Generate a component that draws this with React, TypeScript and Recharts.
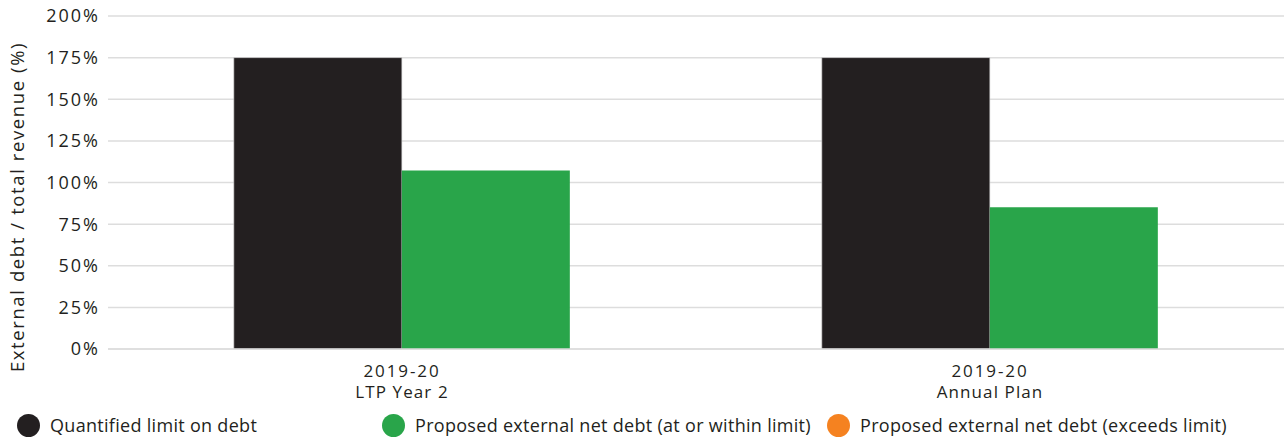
import React from "react";
import {
  Bar,
  BarChart,
  CartesianGrid,
  Legend,
  XAxis,
  YAxis,
} from "recharts";

const years = ["2019-20", "2019-20"];
const plans = ["LTP Year 2", "Annual Plan"];
const limitValues = [175, 175];
const proposedValues = [107.2, 85.2];
const yTicks = [0, 25, 50, 75, 100, 125, 150, 175, 200];
const yTitle = "External debt / total revenue (%)";

const legendLabels = [
  "Quantified limit on debt",
  "Proposed external net debt (at or within limit)",
  "Proposed external net debt (exceeds limit)",
];
const legendColors = ["#231f20", "#29a54a", "#f58220"];

const data = years.map((y, i) => ({
  name: `${y}|${plans[i]}`,
  limit: limitValues[i],
  proposed: proposedValues[i],
}));

const FONT = "'Open Sans', sans-serif";

function CategoryTick(props: any) {
  const { x, y, payload } = props;
  const [top, bottom] = String(payload.value).split("|");
  return (
    <g transform={`translate(${x},${y})`}>
      <text
        textAnchor="middle"
        fill="#231f20"
        fontFamily={FONT}
        fontSize={17}
        letterSpacing={1.9}
      >
        <tspan x={0} dy={20}>
          {top}
        </tspan>
        <tspan x={0} dy={21} letterSpacing={1.1}>
          {bottom}
        </tspan>
      </text>
    </g>
  );
}

function YTitle() {
  return (
    <text
      x={24}
      y={207}
      transform="rotate(-90 24 207)"
      textAnchor="middle"
      fill="#231f20"
      fontFamily={FONT}
      fontSize={18.5}
      letterSpacing={1.6}
    >
      {yTitle}
    </text>
  );
}

function LegendBox() {
  const lefts = [17, 382, 827];
  return (
    <div style={{ position: "relative", height: 32, width: 1284 }}>
      {legendLabels.map((label, i) => (
        <div
          key={label}
          style={{
            position: "absolute",
            left: lefts[i],
            top: 6,
            display: "flex",
            alignItems: "center",
            fontFamily: FONT,
            fontSize: 18,
            letterSpacing: 0.3,
            color: "#231f20",
            whiteSpace: "nowrap",
          }}
        >
          <span
            style={{
              display: "inline-block",
              width: 23,
              height: 23,
              borderRadius: "50%",
              background: legendColors[i],
              marginRight: 10,
            }}
          />
          {label}
        </div>
      ))}
    </div>
  );
}

export default function App() {
  return (
    <div style={{ width: 1284, height: 439 }}>
      <style>{`body{margin:0}`}</style>
      <BarChart
        width={1284}
        height={439}
        data={data}
        margin={{ top: 16, right: 0, left: 0, bottom: 0 }}
        barCategoryGap="21.4%"
        barGap={0}
      >
        <CartesianGrid vertical={false} stroke="#dddddd" strokeWidth={1.5} />
        <XAxis
          dataKey="name"
          tick={<CategoryTick />}
          tickLine={false}
          axisLine={{ stroke: "#dddddd", strokeWidth: 1.5 }}
          height={58}
          interval={0}
        />
        <YAxis
          domain={[0, 200]}
          ticks={yTicks}
          interval={0}
          width={108}
          tickLine={false}
          axisLine={false}
          tickFormatter={(v: number) => `${v}%`}
          tick={{
            fill: "#231f20",
            fontSize: 18,
            fontFamily: FONT,
            fontWeight: 500,
            letterSpacing: 2,
          }}
          label={<YTitle />}
        />
        <Legend verticalAlign="bottom" height={32} content={() => <LegendBox />} />
        <Bar
          dataKey="limit"
          fill={legendColors[0]}
          stroke="#cfcfcf"
          strokeWidth={0.6}
          isAnimationActive={false}
        />
        <Bar
          dataKey="proposed"
          fill={legendColors[1]}
          isAnimationActive={false}
        />
      </BarChart>
    </div>
  );
}
